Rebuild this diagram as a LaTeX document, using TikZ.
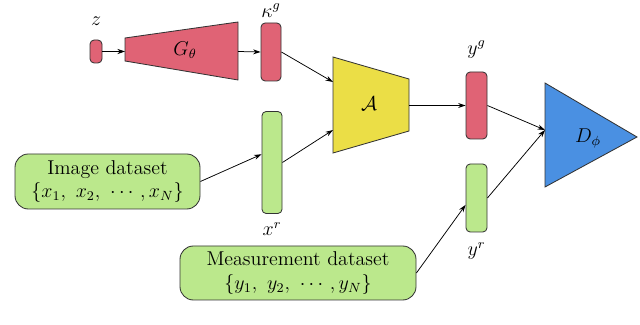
\documentclass[tikz,border=0pt]{standalone}
\usepackage{amsmath,amssymb}
\usetikzlibrary{arrows.meta,calc,positioning}
\definecolor{genred}{RGB}{224,99,117}
\definecolor{realgreen}{RGB}{187,232,140}
\definecolor{opyellow}{RGB}{235,222,70}
\definecolor{discblue}{RGB}{74,144,226}
\tikzset{
  blk/.style={draw=black!80,line width=0.5pt},
  vec/.style={blk,rounded corners=2.5pt,inner sep=0pt},
  veclab/.style={font=\large,inner sep=1pt},
  dataset/.style={blk,fill=realgreen,rounded corners=8pt,align=center,inner sep=0pt,font=\large},
  conn/.style={->,line width=0.45pt}
}
\begin{document}
\begin{tikzpicture}[>={Stealth[length=4.5pt,width=3pt]},x=0.6pt,y=-0.6pt]
\useasboundingbox (0,0) rectangle (640,325);
% generator branch
\node[vec,fill=genred,minimum width=7.2pt,minimum height=13.8pt] (z) at (96,51.5) {};
\node[veclab,above=7pt of z] (zlab) {$z$};
\coordinate (Gw) at (125,51.5);\coordinate (Ge) at (238,51.5);
\draw[blk,fill=genred] (125,38)--(238,22)--(238,80)--(125,61)--cycle;
\node[font=\large] (Glab) at (185,50) {$G_\theta$};
\node[vec,fill=genred,minimum width=12pt,minimum height=34.8pt] (kappa) at (271,52) {};
\node[veclab,above=2pt of kappa] (kappalab) {$\kappa^g$};
% real images
\node[vec,fill=realgreen,minimum width=12pt,minimum height=61.2pt] (xr) at (272,162.5) {};
\node[veclab,below=4pt of xr] (xrlab) {$x^r$};
\node[dataset,minimum width=111pt,minimum height=33pt] (img) at (107.5,181.5)
  {Image dataset\\ $\{x_1,\ x_2,\ \cdots,x_N\}$};
% forward operator
\coordinate (Ain1) at (333,82);\coordinate (Ain2) at (333,130);\coordinate (Ae) at (409,105.5);
\draw[blk,fill=opyellow] (333,57)--(409,79)--(409,131)--(333,153)--cycle;
\node[font=\large] (Alab) at (369,104) {$\mathcal{A}$};
% measurements
\node[vec,fill=genred,minimum width=12.6pt,minimum height=40.2pt] (yg) at (476.5,105.5) {};
\node[veclab,above=7pt of yg] (yglab) {$y^g$};
\node[vec,fill=realgreen,minimum width=12.6pt,minimum height=40.8pt] (yr) at (476.5,198) {};
\node[veclab,below=5pt of yr] (yrlab) {$y^r$};
\node[dataset,minimum width=141.6pt,minimum height=32.4pt] (meas) at (298,273)
  {Measurement dataset\\ $\{y_1,\ y_2,\ \cdots,y_N\}$};
% discriminator
\coordinate (Din) at (545,130);
\draw[blk,fill=discblue] (545,83)--(637,137)--(545,187)--cycle;
\node[font=\large] (Dlab) at (588,138) {$D_\phi$};
% connectors
\draw[conn] (z.east)--(Gw);
\draw[conn] (Ge)--(kappa.west);
\draw[conn] (kappa.east)--(Ain1);
\draw[conn] (xr.east)--(Ain2);
\draw[conn] (img.east)--($(xr.north west)!0.42!(xr.south west)$);
\draw[conn] (Ae)--(yg.west);
\draw[conn] (yg.east)--(Din);
\draw[conn] (yr.east)--(Din);
\draw[conn] (meas.east)--($(yr.north west)!0.6!(yr.south west)$);
\end{tikzpicture}
\end{document}
